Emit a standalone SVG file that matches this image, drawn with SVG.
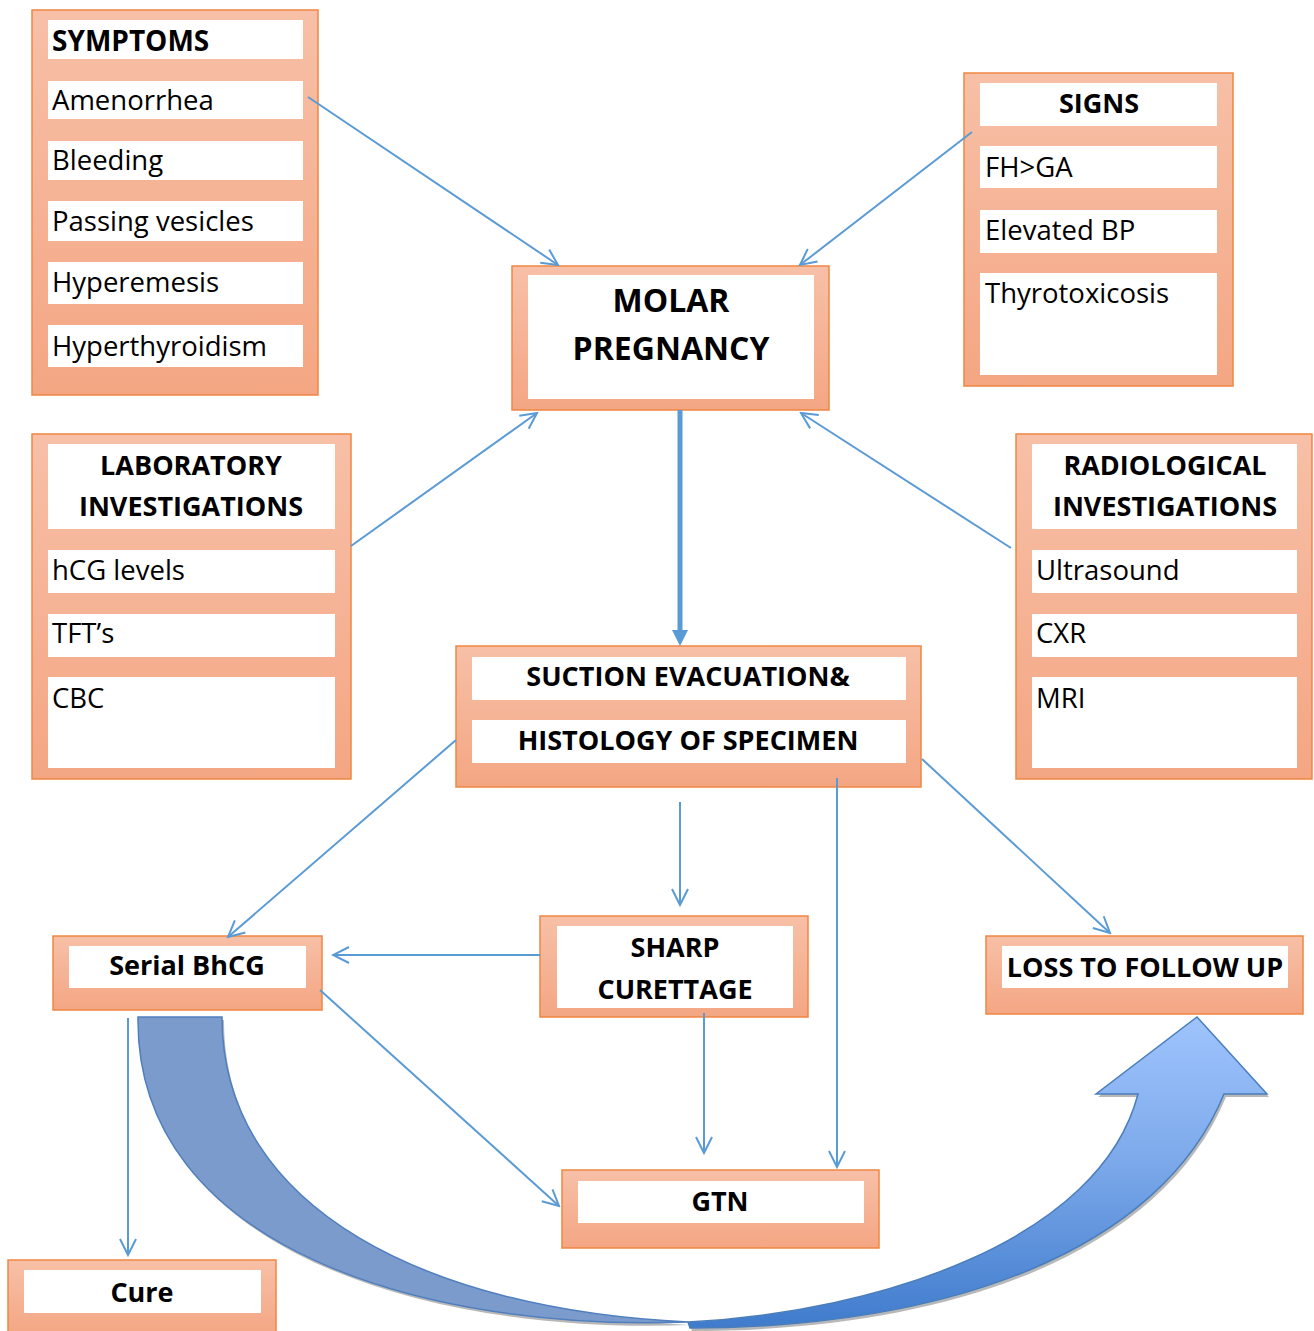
<svg xmlns="http://www.w3.org/2000/svg" width="1314" height="1331" viewBox="0 0 1314 1331">
<defs>
<linearGradient id="boxg" x1="0" y1="0" x2="0" y2="1">
<stop offset="0" stop-color="#f7c0a7"/>
<stop offset="1" stop-color="#f4a683"/>
</linearGradient>
<linearGradient id="arrowg" x1="0" y1="1017" x2="0" y2="1328" gradientUnits="userSpaceOnUse">
<stop offset="0" stop-color="#9fc4fd"/>
<stop offset="0.45" stop-color="#7eaaeb"/>
<stop offset="1" stop-color="#3f7bcc"/>
</linearGradient>
<marker id="open" viewBox="0 0 20 20" refX="18" refY="10" markerWidth="20" markerHeight="20" markerUnits="userSpaceOnUse" orient="auto">
<path d="M2,2 L18,10 L2,18" fill="none" stroke="#5b9bd5" stroke-width="2"/>
</marker>
</defs>
<style>
.box{fill:url(#boxg);stroke:#ef8642;stroke-width:1.5}
.cell{fill:#ffffff}
.t{font-family:"Open Sans","Noto Sans",sans-serif;font-size:27.5px;fill:#000}
.b{font-family:"Open Sans","Noto Sans",sans-serif;font-size:27px;font-weight:bold;fill:#000}
.c{text-anchor:middle}
.conn{stroke:#5b9bd5;stroke-width:2;fill:none;marker-end:url(#open)}
</style>
<rect width="1314" height="1331" fill="#ffffff"/>

<g id="curved-arrow">
<g transform="translate(2,3)" fill="#a6a6a6" opacity="0.8">
<path d="M138,1017 L222,1017 C222,1210 430,1310 688,1322 C430,1332 135,1250 138,1017 Z"/>
<path d="M688,1322 C880,1312 1100,1240 1138,1094 L1096,1094 L1197,1017 L1267,1094 L1224,1094 C1160,1250 950,1328 690,1328 Z"/>
</g>
<path d="M138,1017 L222,1017 C222,1210 430,1310 688,1322 C430,1332 135,1250 138,1017 Z" fill="#7b9bcd" stroke="#4f7fbf" stroke-width="1.5"/>
<path d="M688,1322 C880,1312 1100,1240 1138,1094 L1096,1094 L1197,1017 L1267,1094 L1224,1094 C1160,1250 950,1328 690,1328 Z" fill="url(#arrowg)" stroke="#4a7ebb" stroke-width="1.5"/>
</g>

<g id="symptoms">
<rect class="box" x="32" y="10" width="286" height="385"/>
<rect class="cell" x="48" y="20" width="255" height="39"/>
<rect class="cell" x="48" y="81" width="255" height="38"/>
<rect class="cell" x="48" y="141" width="255" height="39"/>
<rect class="cell" x="48" y="201" width="255" height="40"/>
<rect class="cell" x="48" y="262" width="255" height="42"/>
<rect class="cell" x="48" y="325" width="255" height="42"/>
<text class="b" x="52" y="51" style="font-size:28px">SYMPTOMS</text>
<text class="t" x="52" y="110">Amenorrhea</text>
<text class="t" x="52" y="170">Bleeding</text>
<text class="t" x="52" y="231">Passing vesicles</text>
<text class="t" x="52" y="292">Hyperemesis</text>
<text class="t" x="52" y="356">Hyperthyroidism</text>
</g>

<g id="signs">
<rect class="box" x="964" y="73" width="269" height="313"/>
<rect class="cell" x="980" y="83" width="237" height="43"/>
<rect class="cell" x="980" y="146" width="237" height="42"/>
<rect class="cell" x="980" y="210" width="237" height="43"/>
<rect class="cell" x="980" y="273" width="237" height="102"/>
<text class="b c" x="1099" y="113">SIGNS</text>
<text class="t" x="985" y="177">FH&gt;GA</text>
<text class="t" x="985" y="240">Elevated BP</text>
<text class="t" x="985" y="303">Thyrotoxicosis</text>
</g>

<g id="molar-pregnancy">
<rect class="box" x="512" y="266" width="317" height="144"/>
<rect class="cell" x="528" y="275" width="286" height="124"/>
<text class="b c" x="671" y="312" style="font-size:32px">MOLAR</text>
<text class="b c" x="671" y="360" style="font-size:32px">PREGNANCY</text>
</g>

<g id="laboratory">
<rect class="box" x="32" y="434" width="319" height="345"/>
<rect class="cell" x="48" y="444" width="287" height="85"/>
<rect class="cell" x="48" y="550" width="287" height="43"/>
<rect class="cell" x="48" y="614" width="287" height="43"/>
<rect class="cell" x="48" y="677" width="287" height="91"/>
<text class="b c" x="191" y="475">LABORATORY</text>
<text class="b c" x="191" y="516">INVESTIGATIONS</text>
<text class="t" x="52" y="580">hCG levels</text>
<text class="t" x="52" y="643">TFT’s</text>
<text class="t" x="52" y="708">CBC</text>
</g>

<g id="radiological">
<rect class="box" x="1016" y="434" width="296" height="345"/>
<rect class="cell" x="1032" y="444" width="265" height="85"/>
<rect class="cell" x="1032" y="550" width="265" height="43"/>
<rect class="cell" x="1032" y="614" width="265" height="43"/>
<rect class="cell" x="1032" y="677" width="265" height="91"/>
<text class="b c" x="1165" y="475">RADIOLOGICAL</text>
<text class="b c" x="1165" y="516">INVESTIGATIONS</text>
<text class="t" x="1036" y="580">Ultrasound</text>
<text class="t" x="1036" y="643">CXR</text>
<text class="t" x="1036" y="708">MRI</text>
</g>

<g id="suction">
<rect class="box" x="456" y="646" width="465" height="141"/>
<rect class="cell" x="472" y="657" width="434" height="43"/>
<rect class="cell" x="472" y="720" width="434" height="43"/>
<text class="b c" x="688" y="686">SUCTION EVACUATION&amp;</text>
<text class="b c" x="688" y="750">HISTOLOGY OF SPECIMEN</text>
</g>

<g id="serial-bhcg">
<rect class="box" x="53" y="936" width="269" height="74"/>
<rect class="cell" x="69" y="946" width="237" height="42"/>
<text class="b c" x="187" y="975">Serial BhCG</text>
</g>

<g id="sharp-curettage">
<rect class="box" x="540" y="916" width="268" height="101"/>
<rect class="cell" x="557" y="926" width="236" height="82"/>
<text class="b c" x="675" y="957">SHARP</text>
<text class="b c" x="675" y="999">CURETTAGE</text>
</g>

<g id="loss-to-follow-up">
<rect class="box" x="986" y="936" width="317" height="78"/>
<rect class="cell" x="1002" y="946" width="286" height="42"/>
<text class="b c" x="1145" y="977">LOSS TO FOLLOW UP</text>
</g>

<g id="gtn">
<rect class="box" x="562" y="1170" width="317" height="78"/>
<rect class="cell" x="578" y="1181" width="286" height="42"/>
<text class="b c" x="720" y="1211">GTN</text>
</g>

<g id="cure">
<rect class="box" x="8" y="1260" width="268" height="76"/>
<rect class="cell" x="24" y="1270" width="237" height="43"/>
<text class="b c" x="142" y="1302">Cure</text>
</g>

<g id="connectors">
<line class="conn" x1="308" y1="97" x2="558" y2="265"/>
<line class="conn" x1="972" y1="132" x2="800" y2="265"/>
<line class="conn" x1="351" y1="546" x2="537" y2="413"/>
<line class="conn" x1="1011" y1="548" x2="801" y2="413"/>
<line x1="680" y1="410" x2="680" y2="632" stroke="#5b9bd5" stroke-width="5"/>
<polygon points="672,630 688,630 680,646" fill="#5b9bd5"/>
<line class="conn" x1="456" y1="740" x2="228" y2="937"/>
<line class="conn" x1="680" y1="802" x2="680" y2="905"/>
<line class="conn" x1="837" y1="778" x2="837" y2="1167"/>
<line class="conn" x1="922" y1="759" x2="1110" y2="933"/>
<line class="conn" x1="540" y1="955" x2="333" y2="955"/>
<line class="conn" x1="704" y1="1013" x2="704" y2="1153"/>
<line class="conn" x1="320" y1="990" x2="559" y2="1206"/>
<line class="conn" x1="128" y1="1018" x2="128" y2="1255"/>
</g>
</svg>
